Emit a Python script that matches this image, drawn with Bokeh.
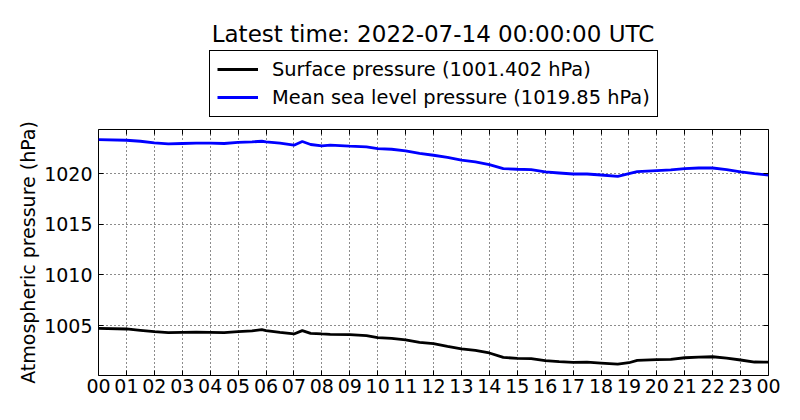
from bokeh.plotting import figure
from bokeh.layouts import column
from bokeh.models import (FixedTicker, LinearAxis, Legend, LegendItem, Range1d, Label,
                          CustomJSTickFormatter)
from bokeh.core.properties import value
from bokeh.embed import file_html
from bokeh.resources import INLINE

# ---- data ----
hours = [0, 1, 1.5, 2, 2.5, 3, 3.5, 4, 4.5, 5, 5.5, 5.85, 6, 6.5, 7, 7.3, 7.6, 8, 8.3,
         9, 9.6, 10, 10.5, 11, 11.5, 12, 12.5, 13, 13.5, 14, 14.5, 15, 15.5, 16, 16.5,
         17, 17.5, 18, 18.6, 19, 19.3, 20, 20.5, 21, 21.5, 22, 22.5, 23, 23.5, 24]

surface = [1004.73, 1004.67, 1004.54, 1004.41, 1004.31, 1004.34, 1004.36, 1004.34, 1004.31,
           1004.41, 1004.48, 1004.60, 1004.51, 1004.34, 1004.18, 1004.51, 1004.24, 1004.18,
           1004.14, 1004.11, 1004.01, 1003.81, 1003.74, 1003.59, 1003.35, 1003.22, 1002.95,
           1002.70, 1002.56, 1002.30, 1001.86, 1001.77, 1001.74, 1001.54, 1001.44, 1001.37,
           1001.39, 1001.31, 1001.21, 1001.34, 1001.57, 1001.64, 1001.67, 1001.83, 1001.90,
           1001.93, 1001.80, 1001.61, 1001.41, 1001.402]

msl = [1023.36, 1023.29, 1023.19, 1023.03, 1022.93, 1022.97, 1023.00, 1023.00, 1022.97,
       1023.07, 1023.13, 1023.19, 1023.13, 1023.00, 1022.80, 1023.17, 1022.87, 1022.73,
       1022.80, 1022.70, 1022.63, 1022.47, 1022.40, 1022.24, 1022.00, 1021.81, 1021.61,
       1021.32, 1021.15, 1020.89, 1020.49, 1020.43, 1020.40, 1020.16, 1020.06, 1019.96,
       1019.96, 1019.86, 1019.73, 1020.00, 1020.20, 1020.30, 1020.36, 1020.49, 1020.55,
       1020.55, 1020.40, 1020.16, 1020.00, 1019.85]

x_ticks = list(range(25))
x_tick_labels = ["00", "01", "02", "03", "04", "05", "06", "07", "08", "09", "10", "11",
                 "12", "13", "14", "15", "16", "17", "18", "19", "20", "21", "22", "23", "00"]
y_ticks = [1005, 1010, 1015, 1020]

title_text = "Latest time: 2022-07-14 00:00:00 UTC"
surface_label = "Surface pressure (1001.402 hPa)"
msl_label = "Mean sea level pressure (1019.85 hPa)"
y_label = "Atmospheric pressure (hPa)"

FONT = "DejaVu Sans"
FS = "19px"
LEG_FS = "19.4px"
W = 784
TOP_H = 121
MAIN_H = 283
LINE_W = 2.8

# ---------------- main chart ----------------
p = figure(width=W, height=MAIN_H, output_backend="svg", toolbar_location=None,
           x_range=Range1d(0, 24), y_range=Range1d(1000.08, 1024.35),
           min_border_left=98, min_border_right=16, min_border_top=8, min_border_bottom=29,
           title=None)
p.background_fill_color = "white"
p.border_fill_color = "white"
p.outline_line_color = "black"
p.outline_line_width = 1
p.outline_line_alpha = 1

r1 = p.line(hours, surface, line_color="black", line_width=LINE_W)
r2 = p.line(hours, msl, line_color="#0000ff", line_width=LINE_W)

for ax in (p.xaxis[0], p.yaxis[0]):
    ax.major_tick_in = 5
    ax.major_tick_out = 0
    ax.minor_tick_in = 0
    ax.minor_tick_out = 0
    ax.axis_line_color = None
    ax.major_tick_line_color = "black"
    ax.major_label_text_font = FONT
    ax.major_label_text_font_size = FS
    ax.major_label_text_color = "black"

p.xaxis[0].ticker = FixedTicker(ticks=x_ticks)
p.xaxis[0].major_label_overrides = {i: lab for i, lab in enumerate(x_tick_labels)}
p.xaxis[0].major_label_standoff = 3
p.yaxis[0].ticker = FixedTicker(ticks=y_ticks)
p.yaxis[0].major_label_standoff = 6
p.yaxis[0].axis_label = y_label
p.yaxis[0].axis_label_text_font = FONT
p.yaxis[0].axis_label_text_font_size = FS
p.yaxis[0].axis_label_text_font_style = "normal"
p.yaxis[0].axis_label_text_color = "black"
p.yaxis[0].axis_label_standoff = 2

p.xgrid[0].ticker = FixedTicker(ticks=x_ticks)
p.ygrid[0].ticker = FixedTicker(ticks=y_ticks)
for g in (p.xgrid[0], p.ygrid[0]):
    g.grid_line_color = "black"
    g.grid_line_dash = "1 3"
    g.grid_line_width = 1
    g.grid_line_alpha = 0.9

blank = CustomJSTickFormatter(code="return ''")
right_axis = LinearAxis(ticker=FixedTicker(ticks=y_ticks), major_tick_in=5, major_tick_out=0,
                        minor_tick_in=0, minor_tick_out=0, axis_line_color=None,
                        formatter=blank, major_label_standoff=0)
p.add_layout(right_axis, "right")
top_axis = LinearAxis(ticker=FixedTicker(ticks=x_ticks), major_tick_in=5, major_tick_out=0,
                      minor_tick_in=0, minor_tick_out=0, axis_line_color=None,
                      formatter=blank, major_label_standoff=0)
p.add_layout(top_axis, "above")

# ---------------- header: title + legend ----------------
# the header panel shows the same two series (outside its visible range) so that the
# legend can sample their line styles
head = figure(width=W, height=TOP_H, output_backend="svg", toolbar_location=None,
              x_range=Range1d(0, 1), y_range=Range1d(0, 1),
              x_axis_type=None, y_axis_type=None, title=None,
              min_border_left=98, min_border_right=16, min_border_top=0, min_border_bottom=0)
head.outline_line_color = None
head.grid.visible = False
head.background_fill_color = "white"
head.border_fill_color = "white"

k1 = head.line(hours, surface, line_color="black", line_width=LINE_W)
k2 = head.line(hours, msl, line_color="#0000ff", line_width=LINE_W)

head.add_layout(Label(x=334.5, y=TOP_H - 33.7, x_units="screen", y_units="screen",
                      text=title_text, text_align="center", text_baseline="alphabetic",
                      text_font=FONT, text_font_size="23px", text_color="black"))

legend = Legend(items=[LegendItem(label=value(surface_label), renderers=[k1]),
                       LegendItem(label=value(msl_label), renderers=[k2])],
                location=(111, TOP_H - 116.7), orientation="vertical", margin=0,
                padding=7, spacing=5, glyph_width=41, glyph_height=22, label_height=22,
                label_standoff=14, label_text_font=FONT, label_text_font_size=LEG_FS,
                label_text_color="black", border_line_color="black", border_line_width=1,
                border_line_alpha=1, background_fill_color="white", background_fill_alpha=1)
head.add_layout(legend, "center")

layout = column(head, p, spacing=0)
open("out.html", "w").write(file_html(layout, INLINE))
